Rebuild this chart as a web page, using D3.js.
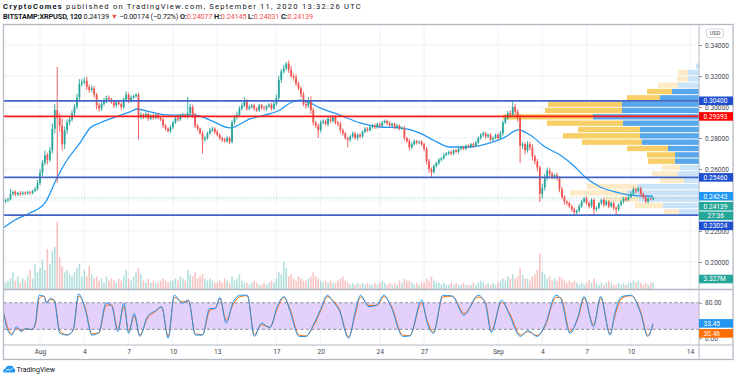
<!DOCTYPE html>
<html>
<head>
<meta charset="utf-8">
<script src="https://cdn.jsdelivr.net/npm/d3@7"></script>
<style>
  html, body { margin: 0; padding: 0; background: #fff; }
  svg { display: block; font-family: Roboto, "Open Sans", sans-serif; }
</style>
</head>
<body>
<svg id="chart" width="736" height="380"></svg>
<script>
// ---- data (prices in 0.0001 USD, 4h bars starting Jul 29 16:00 UTC) ----
const firstOpen = 2390
const closes = [
  2398, 2405,
  2440, 2452, 2436, 2445, 2438, 2448,
  2442, 2450, 2446, 2458, 2470, 2510,
  2575, 2640, 2690, 2660, 2720, 2860,
  2980, 2930, 2880, 2760, 2850, 2900,
  2920, 2960, 3000, 3060, 3150, 3160,
  3170, 3130, 3110, 3120, 3080, 3010,
  2990, 3020, 3040, 3060, 3050, 3030,
  3010, 3030, 3020, 3000, 3050, 3080,
  3040, 3060, 3070, 3080, 2940, 2950,
  2935, 2955, 2925, 2945, 2930, 2950,
  2930, 2920, 2880, 2860, 2845, 2870,
  2900, 2930, 2920, 2945, 2950, 2940,
  2960, 3000, 2950, 2880, 2860, 2830,
  2790, 2800, 2830, 2850, 2860, 2840,
  2820, 2800, 2790, 2780, 2800, 2775,
  2900, 2935, 2950, 2990, 3010, 3040,
  2990, 3000, 3010, 2990, 2980, 3010,
  2995, 2990, 3005, 3015, 2990, 3020,
  3060, 3175, 3230, 3250, 3280, 3240,
  3200, 3190, 3150, 3120, 3080, 3020,
  3010, 3045, 2980, 2900, 2880, 2850,
  2900, 2910, 2890, 2925, 2910, 2935,
  2900, 2890, 2850, 2830, 2800, 2790,
  2810, 2830, 2800, 2820, 2810, 2840,
  2860, 2850, 2870, 2880, 2870, 2890,
  2880, 2900, 2910, 2895, 2880, 2890,
  2870, 2880, 2860, 2865, 2800, 2780,
  2740, 2760, 2780, 2770, 2775, 2760,
  2730, 2650, 2600, 2580, 2620, 2640,
  2660, 2670, 2690, 2700, 2710, 2700,
  2720, 2710, 2730, 2740, 2730, 2750,
  2745, 2760, 2750, 2770, 2800, 2820,
  2830, 2810, 2820, 2790, 2800, 2820,
  2800, 2830, 2900, 2930, 2960, 2950,
  3000, 2970, 2930, 2750, 2760, 2720,
  2760, 2740, 2680, 2650, 2610, 2440,
  2480, 2540, 2590, 2570, 2550, 2560,
  2540, 2470, 2420, 2390, 2380, 2360,
  2340, 2320, 2330, 2360, 2390, 2410,
  2380, 2360, 2400, 2340, 2350, 2380,
  2400, 2370, 2390, 2360, 2380, 2350,
  2340, 2370, 2390, 2410, 2400, 2420,
  2440, 2470, 2460, 2475, 2440, 2420,
  2390, 2410, 2405, 2413.9
]
const wickUp = [
  10, 8,
  32, 10, 12, 8, 14, 9,
  8, 12, 10, 9, 15, 20,
  25, 18, 30, 15, 22, 35,
  40, 278, 30, 45, 25, 20,
  15, 20, 18, 25, 30, 20,
  20, 25, 15, 20, 15, 12,
  15, 10, 18, 12, 15, 10,
  12, 10, 15, 10, 12, 20,
  12, 15, 10, 10, 12, 15,
  10, 12, 8, 10, 12, 8,
  10, 8, 12, 10, 8, 12,
  10, 12, 15, 10, 12, 8,
  105, 20, 15, 12, 10, 8,
  15, 12, 10, 15, 12, 10,
  12, 10, 8, 12, 15, 10,
  15, 12, 20, 15, 18, 25,
  12, 15, 10, 12, 8, 10,
  10, 12, 8, 10, 12, 15,
  20, 25, 15, 20, 10, 20,
  25, 15, 20, 15, 12, 18,
  15, 20, 25, 15, 10, 12,
  15, 12, 10, 15, 12, 10,
  12, 10, 15, 12, 10, 8,
  10, 12, 8, 10, 12, 10,
  12, 10, 8, 10, 12, 10,
  10, 12, 10, 8, 12, 10,
  10, 12, 8, 10, 12, 8,
  15, 12, 10, 8, 10, 12,
  10, 12, 15, 10, 12, 8,
  10, 8, 12, 10, 8, 10,
  8, 10, 12, 8, 10, 8,
  10, 8, 10, 12, 10, 12,
  12, 10, 8, 12, 10, 8,
  10, 15, 12, 18, 15, 20,
  33, 20, 15, 20, 15, 12,
  20, 15, 20, 12, 15, 10,
  25, 30, 20, 15, 12, 10,
  15, 12, 15, 10, 8, 10,
  10, 12, 10, 15, 12, 10,
  15, 12, 10, 12, 10, 8,
  10, 12, 10, 8, 12, 10,
  10, 8, 12, 10, 12, 10,
  15, 12, 10, 9, 10, 8,
  10, 8, 6, 2
]
const wickDn = [
  10, 12,
  8, 12, 10, 9, 12, 8,
  10, 8, 12, 10, 8, 10,
  15, 20, 18, 30, 15, 20,
  30, 420, 40, 40, 30, 25,
  20, 15, 18, 15, 20, 18,
  15, 20, 18, 15, 20, 25,
  20, 15, 12, 15, 12, 10,
  15, 12, 10, 20, 12, 15,
  15, 12, 10, 12, 150, 20,
  12, 10, 15, 10, 12, 10,
  10, 12, 15, 12, 10, 12,
  12, 10, 15, 10, 12, 10,
  15, 12, 20, 15, 12, 10,
  90, 15, 12, 10, 12, 15,
  10, 12, 15, 10, 12, 15,
  10, 12, 15, 10, 12, 10,
  15, 12, 10, 15, 12, 10,
  10, 12, 15, 10, 12, 10,
  12, 15, 20, 15, 12, 20,
  15, 20, 15, 12, 20, 15,
  20, 15, 25, 20, 15, 50,
  15, 12, 10, 15, 12, 10,
  12, 15, 20, 15, 12, 50,
  15, 12, 10, 15, 12, 10,
  10, 12, 8, 10, 12, 10,
  12, 10, 8, 12, 10, 8,
  10, 12, 10, 8, 15, 12,
  20, 12, 10, 12, 10, 12,
  15, 20, 25, 32, 12, 10,
  15, 12, 10, 8, 10, 12,
  10, 8, 12, 10, 8, 10,
  8, 10, 12, 8, 10, 12,
  12, 15, 10, 12, 10, 8,
  12, 10, 15, 10, 12, 10,
  15, 20, 25, 110, 20, 25,
  15, 20, 25, 20, 25, 53,
  30, 20, 15, 20, 18, 15,
  15, 20, 15, 20, 15, 12,
  15, 17, 12, 10, 12, 10,
  12, 15, 10, 37, 12, 10,
  12, 15, 10, 12, 10, 15,
  37, 12, 10, 12, 10, 8,
  10, 12, 15, 10, 20, 15,
  10, 12, 8, 6
]
// volume, millions
const volumes = [
  3, 4,
  5, 8, 4, 6, 3, 5,
  4, 6, 9, 5, 12, 8,
  10, 14, 9, 19, 12, 18,
  20, 32, 15, 11, 8, 9,
  7, 6, 8, 10, 12, 6,
  9, 6, 11, 7, 5, 6,
  4, 5, 3, 6, 4, 5,
  4, 3, 5, 4, 6, 9,
  5, 4, 6, 8, 10, 7,
  4, 3, 5, 3, 4, 3,
  3, 4, 5, 4, 3, 4,
  4, 5, 4, 6, 5, 4,
  9, 7, 6, 8, 5, 6,
  7, 5, 4, 5, 4, 3,
  3, 4, 3, 5, 4, 3,
  6, 4, 5, 7, 4, 3,
  3, 2, 3, 4, 3, 2,
  2, 3, 2, 3, 4, 3,
  5, 8, 7, 13, 10, 6,
  7, 5, 4, 6, 5, 4,
  4, 5, 6, 8, 6, 5,
  4, 3, 4, 3, 4, 3,
  3, 4, 5, 6, 4, 3,
  2, 3, 2, 3, 2, 3,
  2, 3, 2, 2, 3, 2,
  3, 4, 3, 2, 3, 2,
  3, 2, 4, 3, 5, 4,
  4, 3, 2, 3, 2, 3,
  3, 5, 4, 6, 4, 3,
  3, 2, 3, 2, 2, 3,
  2, 3, 2, 2, 3, 2,
  2, 2, 3, 2, 3, 4,
  3, 2, 3, 2, 3, 2,
  3, 4, 5, 4, 6, 5,
  7, 5, 6, 10, 7, 5,
  5, 4, 6, 7, 9, 17,
  8, 7, 5, 6, 4, 5,
  4, 6, 5, 4, 3, 4,
  3, 4, 3, 2, 3, 2,
  3, 4, 3, 5, 3, 2,
  3, 2, 3, 4, 3, 2,
  2, 3, 2, 3, 2, 3,
  3, 4, 3, 4, 3, 2,
  3, 2, 3, 3.327
]

// moving average, days from Aug 1 00:00 UTC
const maDays = [-2.5, -1.69, -0.68, 0.34, 1.15, 1.83, 2.71, 3.39, 4.06, 5.08, 6.09, 6.57, 7.45, 8.8, 10.49, 11.51, 12.86, 14.22, 15.23, 16.25, 16.93, 17.6, 18.28, 18.96, 20.31, 21.67, 23.02, 24.37, 25.73, 26.61, 27.76, 29.11, 30.47, 31.48, 32.36, 33.18, 34.19, 35.21, 36.22, 36.9, 37.92, 38.93, 39.95, 40.96, 41.5]
const maValues = [0.2219, 0.2271, 0.2316, 0.2381, 0.2542, 0.2658, 0.2768, 0.2865, 0.2897, 0.2935, 0.2968, 0.2987, 0.2968, 0.2948, 0.2948, 0.2916, 0.2865, 0.2923, 0.2948, 0.2981, 0.3026, 0.3045, 0.3026, 0.2994, 0.2948, 0.2897, 0.2871, 0.2865, 0.2832, 0.2787, 0.2742, 0.2742, 0.2768, 0.2806, 0.2852, 0.2819, 0.2742, 0.269, 0.2613, 0.2548, 0.2484, 0.2452, 0.2432, 0.2426, 0.24243]

// stochastic RSI
const stochDays = [-2.55, -2.23, -1.91, -1.59, -1.27, -0.95, -0.57, -0.32, -0.06, 0.26, 0.45, 0.7, 0.96, 1.34, 1.85, 2.24, 2.62, 3.07, 3.51, 3.99, 4.47, 4.85, 5.27, 5.68, 6.0, 6.38, 6.76, 7.27, 7.81, 8.23, 8.68, 9.09, 9.63, 10.05, 10.52, 11.0, 11.48, 11.86, 12.18, 12.6, 13.08, 13.56, 14.03, 14.51, 14.99, 15.56, 16.1, 16.52, 16.9, 17.54, 18.02, 18.5, 18.98, 19.45, 19.84, 20.25, 20.89, 21.37, 21.69, 22.26, 22.8, 23.28, 23.76, 24.56, 25.04, 25.83, 26.22, 26.63, 27.27, 27.91, 28.7, 29.66, 30.14, 30.55, 31.25, 31.73, 32.53, 33.01, 33.64, 34.19, 34.92, 35.24, 35.88, 36.42, 36.83, 37.47, 37.95, 38.59, 38.91, 39.38, 40.02, 40.66, 41.14, 41.5]
const stochK = [75, 22, 7, 26, 15, 22, 19, 34, 97, 95, 79, 90, 86, 11, 7, 19, 100, 64, 7, 13, 79, 73, 15, 79, 11, 56, 4, 49, 62, 71, 0, 97, 79, 86, 7, 7, 67, 67, 92, 34, 82, 97, 97, 4, 34, 24, 75, 94, 64, 4, 4, 30, 64, 97, 82, 64, 0, 64, 97, 71, 75, 97, 71, 4, 5, 86, 34, 11, 97, 95, 52, 97, 79, 13, 86, 56, 4, 17, 4, 30, 97, 90, 11, 49, 94, 26, 94, 7, 56, 94, 97, 56, 4, 33.45]
const stochD = [72, 28, 10, 22, 17, 21, 20, 30, 90, 95, 82, 87, 86, 16, 8, 17, 95, 68, 10, 12, 74, 75, 20, 72, 16, 50, 7, 45, 60, 70, 4, 92, 82, 84, 10, 8, 62, 68, 89, 40, 77, 94, 96, 8, 30, 25, 70, 92, 68, 7, 5, 27, 60, 94, 85, 66, 3, 58, 93, 74, 74, 94, 74, 7, 6, 80, 38, 14, 93, 95, 56, 93, 82, 17, 81, 60, 7, 15, 6, 27, 92, 92, 15, 45, 90, 30, 90, 10, 50, 90, 96, 60, 7, 30.46]

// visible range volume profile, rows from 0.3284 down to 0.2303
const profileTop = 0.3284, profileBottom = 0.2303
const profileUp =   [1.5, 5.5, 5.5, 10.5, 13.5, 19.5, 38.5, 38.5, 53, 38, 29.5, 29.5, 28.5, 15.5, 12, 12, 9.5, 10.5, 7.5, 31, 36, 30, 18, 10]
const profileDown = [0, 5, 5.5, 10, 12.5, 16.5, 37, 38.5, 45, 38, 31, 38.5, 30, 20.5, 14, 13.5, 9, 13, 12, 25, 28.5, 17.5, 14, 7.5]
const profileValueArea = [0, 0, 0, 0, 1, 1, 1, 1, 1, 1, 1, 1, 1, 1, 1, 1, 0, 0, 0, 0, 0, 0, 0, 0]

// drawn horizontal levels
const levels = [0.30400, 0.29393, 0.25460, 0.23024]
const lastPrice = 0.24139, lastMA = 0.24243, countdown = "27:36", lastVolume = "3.327M"

// tick labels the scale shows (0.24 and 20 sit under the value labels)
const priceTicks = [0.20, 0.22, 0.26, 0.28, 0.30, 0.32, 0.34]
const gridPrices = [0.20, 0.22, 0.24, 0.26, 0.28, 0.30, 0.32, 0.34]
const oscTicks = [0, 80]
const timeTicks = ["2020-08-01", "2020-08-04", "2020-08-07", "2020-08-10", "2020-08-13", "2020-08-17", "2020-08-20", "2020-08-24", "2020-08-27", "2020-09-01", "2020-09-04", "2020-09-07", "2020-09-10", "2020-09-14"]
const timeLabels = ["Aug", "4", "7", "10", "13", "17", "20", "24", "27", "Sep", "4", "7", "10", "14"]

// ---- layout ----
const L = 3.5, R = 699, TOP = 24.5, MAIN_B = 289.5, OSC_B = 345, BOTTOM = 359.5, FR = 733
const DAY = 864e5, DAY0 = Date.UTC(2020, 7, 1), T0 = Date.UTC(2020, 6, 29, 16), STEP = 4 * 3600e3
const toDate = d => new Date(DAY0 + d * DAY)

const x = d3.scaleUtc().domain([new Date(DAY0), new Date(Date.UTC(2020, 8, 14))]).range([40, 690])
const y = d3.scaleLinear().domain([0.1826, 0.3529]).range([289, 25])
const yVol = d3.scaleLinear().domain([0, 32]).range([289, 222])
const yOsc = d3.scaleLinear().domain([0, 100]).range([338.2, 293.9])
const wProf = d3.scaleLinear().domain([0, 98]).range([0, 196])

const GREEN = "#26a69a", RED = "#ef5350", GRID = "#eef1f8"

const svg = d3.select("#chart")
const defs = svg.append("defs")
defs.append("clipPath").attr("id", "clipMain").append("rect")
  .attr("x", L).attr("y", TOP).attr("width", R - L).attr("height", MAIN_B - TOP)
defs.append("clipPath").attr("id", "clipOsc").append("rect")
  .attr("x", L).attr("y", MAIN_B).attr("width", R - L).attr("height", OSC_B - MAIN_B)

const bars = closes.map((c, i) => {
  const o = i ? closes[i - 1] : firstOpen
  return {
    t: new Date(T0 + i * STEP),
    o: o / 1e4, c: c / 1e4,
    h: (Math.max(o, c) + wickUp[i]) / 1e4,
    l: (Math.min(o, c) - wickDn[i]) / 1e4,
    v: volumes[i]
  }
})

// ---- main pane ----
const main = svg.append("g").attr("clip-path", "url(#clipMain)")
const timeDates = timeTicks.map(s => new Date(s + "T00:00:00Z"))

main.selectAll(".vgrid").data(timeDates).join("line")
  .attr("x1", d => x(d)).attr("x2", d => x(d)).attr("y1", TOP).attr("y2", MAIN_B)
  .attr("stroke", GRID)
main.selectAll(".hgrid").data(gridPrices).join("line")
  .attr("x1", L).attr("x2", R).attr("y1", d => y(d)).attr("y2", d => y(d))
  .attr("stroke", GRID)

main.append("g").selectAll("rect").data(bars).join("rect")
  .attr("x", d => x(d.t) - 0.8).attr("width", 1.6)
  .attr("y", d => yVol(d.v)).attr("height", d => yVol(0) - yVol(d.v))
  .attr("fill", d => d.c >= d.o ? GREEN : RED).attr("opacity", 0.35)

// volume profile
const rowH = (profileTop - profileBottom) / profileUp.length
const rows = profileUp.map((u, i) => ({ u, dn: profileDown[i], va: profileValueArea[i], p: profileTop - i * rowH }))
const prof = main.append("g")
prof.selectAll(".up").data(rows).join("rect")
  .attr("x", d => R - wProf(d.u)).attr("width", d => wProf(d.u))
  .attr("y", d => y(d.p) + 0.5).attr("height", d => y(d.p - rowH) - y(d.p) - 1)
  .attr("fill", d => d.va ? "#58a7ea" : "#cbe3f8")
prof.selectAll(".dn").data(rows).join("rect")
  .attr("x", d => R - wProf(d.u) - wProf(d.dn)).attr("width", d => wProf(d.dn))
  .attr("y", d => y(d.p) + 0.5).attr("height", d => y(d.p - rowH) - y(d.p) - 1)
  .attr("fill", d => d.va ? "#f8cf66" : "#fdebc8")

main.append("line").attr("x1", L).attr("x2", R)
  .attr("y1", y(lastPrice)).attr("y2", y(lastPrice))
  .attr("stroke", GREEN).attr("stroke-opacity", 0.6).attr("stroke-dasharray", "1,2")

main.append("path")
  .datum(maDays.map((d, i) => [toDate(d), maValues[i]]))
  .attr("fill", "none").attr("stroke", "#2196f3").attr("stroke-width", 1.3)
  .attr("d", d3.line().x(d => x(d[0])).y(d => y(d[1])).curve(d3.curveMonotoneX))

const candles = main.append("g")
candles.selectAll("line").data(bars).join("line")
  .attr("x1", d => x(d.t)).attr("x2", d => x(d.t))
  .attr("y1", d => y(d.h)).attr("y2", d => y(d.l))
  .attr("stroke", d => d.c >= d.o ? GREEN : RED).attr("stroke-width", 0.9)
candles.selectAll("rect").data(bars).join("rect")
  .attr("x", d => x(d.t) - 0.9).attr("width", 1.8)
  .attr("y", d => y(Math.max(d.o, d.c)))
  .attr("height", d => Math.max(0.8, Math.abs(y(d.o) - y(d.c))))
  .attr("fill", d => d.c >= d.o ? GREEN : RED)

main.selectAll(".lvl").data(levels).join("line")
  .attr("x1", L).attr("x2", R).attr("y1", d => y(d)).attr("y2", d => y(d))
  .attr("stroke", (d, i) => i === 1 ? "#ff1a1a" : "#4164c6").attr("stroke-width", 1.7)

// ---- oscillator pane ----
const osc = svg.append("g").attr("clip-path", "url(#clipOsc)")
osc.selectAll(".vgrid").data(timeDates).join("line")
  .attr("x1", d => x(d)).attr("x2", d => x(d)).attr("y1", MAIN_B).attr("y2", OSC_B)
  .attr("stroke", GRID)
osc.append("rect").attr("x", L).attr("width", R - L)
  .attr("y", yOsc(80)).attr("height", yOsc(20) - yOsc(80)).attr("fill", "#e3d0fb")
osc.selectAll(".band").data([80, 20]).join("line")
  .attr("x1", L).attr("x2", R).attr("y1", d => yOsc(d)).attr("y2", d => yOsc(d))
  .attr("stroke", "#8a8d96").attr("stroke-dasharray", "3,2.5")
const oscLine = d3.line().x(d => x(d[0])).y(d => yOsc(d[1])).curve(d3.curveMonotoneX)
osc.append("path").datum(stochDays.map((d, i) => [toDate(d), stochD[i]]))
  .attr("fill", "none").attr("stroke", "#ff6d00").attr("stroke-width", 1).attr("d", oscLine)
osc.append("path").datum(stochDays.map((d, i) => [toDate(d), stochK[i]]))
  .attr("fill", "none").attr("stroke", "#2196f3").attr("stroke-width", 1).attr("d", oscLine)

// ---- frame ----
const frame = svg.append("g").attr("stroke", "#b4b8c2").attr("fill", "none")
frame.append("rect").attr("x", L).attr("y", TOP).attr("width", FR - L).attr("height", BOTTOM - TOP).attr("stroke-width", 1.3)
frame.append("line").attr("x1", R).attr("x2", R).attr("y1", TOP).attr("y2", BOTTOM)
frame.append("line").attr("x1", L).attr("x2", FR).attr("y1", MAIN_B).attr("y2", MAIN_B).attr("stroke-width", 1.3)
frame.append("line").attr("x1", L).attr("x2", FR).attr("y1", OSC_B).attr("y2", OSC_B)

// ---- axes ----
const axisFont = 6.6, axisColor = "#434651"
const pa = svg.append("g").attr("transform", `translate(${R},0)`)
  .call(d3.axisRight(y).tickValues(priceTicks).tickFormat(d3.format(".5f")).tickSize(3).tickPadding(3))
pa.select(".domain").remove()
pa.selectAll("line").attr("stroke", "#8a8d96")
pa.selectAll("text").attr("font-size", axisFont).attr("fill", axisColor).attr("font-family", "Roboto")

const oa = svg.append("g").attr("transform", `translate(${R},0)`)
  .call(d3.axisRight(yOsc).tickValues(oscTicks).tickFormat(d3.format(".2f")).tickSize(3).tickPadding(3))
oa.select(".domain").remove()
oa.selectAll("line").attr("stroke", "#8a8d96")
oa.selectAll("text").attr("font-size", axisFont).attr("fill", axisColor).attr("font-family", "Roboto")

const ta = svg.append("g").attr("transform", `translate(0,${OSC_B})`)
  .call(d3.axisBottom(x).tickValues(timeDates).tickFormat((d, i) => timeLabels[i]).tickSize(0).tickPadding(4.5))
ta.select(".domain").remove()
ta.selectAll("text").attr("font-size", axisFont).attr("fill", axisColor).attr("font-family", "Roboto")

// USD box
svg.append("rect").attr("x", 706.5).attr("y", 29).attr("width", 17).attr("height", 8.5).attr("rx", 2)
  .attr("fill", "#fff").attr("stroke", "#c9ccd4").attr("stroke-width", 0.8)
svg.append("text").attr("x", 715).attr("y", 35.4).attr("text-anchor", "middle")
  .attr("font-size", 5.6).attr("fill", axisColor).text("USD")

// ---- scale labels with collision push ----
function drawLabels(items) {
  items.sort((a, b) => a.y - b.y)
  let prevBottom = -1e9
  const h = 8.6
  items.forEach(it => {
    const rowsN = it.extra ? 2 : 1
    const top = Math.max(it.y - h / 2, prevBottom + 1.4)
    const g = svg.append("g")
    g.append("rect").attr("x", R).attr("y", top).attr("width", FR - R).attr("height", h).attr("fill", it.bg)
    g.append("text").attr("x", R + 4.5).attr("y", top + h / 2).attr("dy", "0.35em")
      .attr("font-size", axisFont).attr("fill", "#fff").text(it.text)
    if (it.extra) {
      g.append("rect").attr("x", R).attr("y", top + h + 1).attr("width", FR - R).attr("height", h).attr("fill", it.bg)
      g.append("text").attr("x", R + 8.5).attr("y", top + h * 1.5 + 1).attr("dy", "0.35em")
        .attr("font-size", axisFont).attr("fill", "#fff").text(it.extra)
    }
    prevBottom = top + h * rowsN + (rowsN - 1)
  })
}
const fmt = d3.format(".5f")
drawLabels([
  { y: y(levels[0]), text: fmt(levels[0]), bg: "#1f4fcf" },
  { y: y(levels[1]), text: fmt(levels[1]), bg: "#ff0000" },
  { y: y(levels[2]), text: fmt(levels[2]), bg: "#1f4fcf" },
  { y: y(lastMA), text: fmt(lastMA), bg: "#2196f3" },
  { y: y(lastPrice), text: fmt(lastPrice), bg: GREEN, extra: countdown },
  { y: y(levels[3]), text: fmt(levels[3]), bg: "#1f4fcf" }
])
drawLabels([{ y: yVol(volumes[volumes.length - 1]) - 3, text: lastVolume, bg: GREEN }])
drawLabels([
  { y: yOsc(stochK[stochK.length - 1]), text: d3.format(".2f")(stochK[stochK.length - 1]), bg: "#2196f3" },
  { y: yOsc(stochD[stochD.length - 1]), text: d3.format(".2f")(stochD[stochD.length - 1]), bg: "#ff6d00" }
])

// ---- header: small type, spaced out to the reference width ----
function spread(sel, target) {
  const w = sel.node().getComputedTextLength()
  const n = sel.text().length
  sel.attr("letter-spacing", (target - w) / n)
}
const h1 = svg.append("text").attr("x", 3).attr("y", 9).attr("font-size", 7.6).attr("fill", "#131722")
h1.append("tspan").attr("font-weight", "bold").text("CryptoComes")
h1.append("tspan").text(" published on TradingView.com, September 11, 2020 13:32:26 UTC")
spread(h1, 359)

const h2 = svg.append("text").attr("x", 3).attr("y", 18.5).attr("font-size", 7.3).attr("fill", "#131722")
h2.append("tspan").attr("font-weight", "bold").text("BITSTAMP:XRPUSD, 120")
h2.append("tspan").text(" 0.24139 ")
h2.append("tspan").attr("fill", RED).text("▼")
h2.append("tspan").text(" −0.00174 (−0.72%) ")
const ohlc = [["O:", "0.24077"], [" H:", "0.24145"], [" L:", "0.24031"], [" C:", "0.24139"]]
ohlc.forEach(([k, v]) => {
  h2.append("tspan").attr("font-weight", "bold").text(k)
  h2.append("tspan").attr("fill", RED).text(v)
})
spread(h2, 310)

// ---- footer logo ----
const logo = svg.append("g").attr("transform", "translate(3,364.5)")
logo.append("path").attr("fill", "#2196f3")
  .attr("d", "M0.5,8 C-0.3,6.2 0.8,4.2 2.6,4.1 C3,1.6 5.4,0.4 7.2,1.6 C8.6,0.8 10.6,1.8 10.7,3.8 C12.3,4.2 12.8,6.6 11.6,8 Z")
logo.append("path").attr("fill", "none").attr("stroke", "#fff").attr("stroke-width", 0.9)
  .attr("d", "M2.5,7 L5,4.5 L7,6 L9.8,3.2")
svg.append("text").attr("x", 16.5).attr("y", 372.3).attr("font-size", 7).attr("fill", "#131722").text("TradingView")
</script>
</body>
</html>
